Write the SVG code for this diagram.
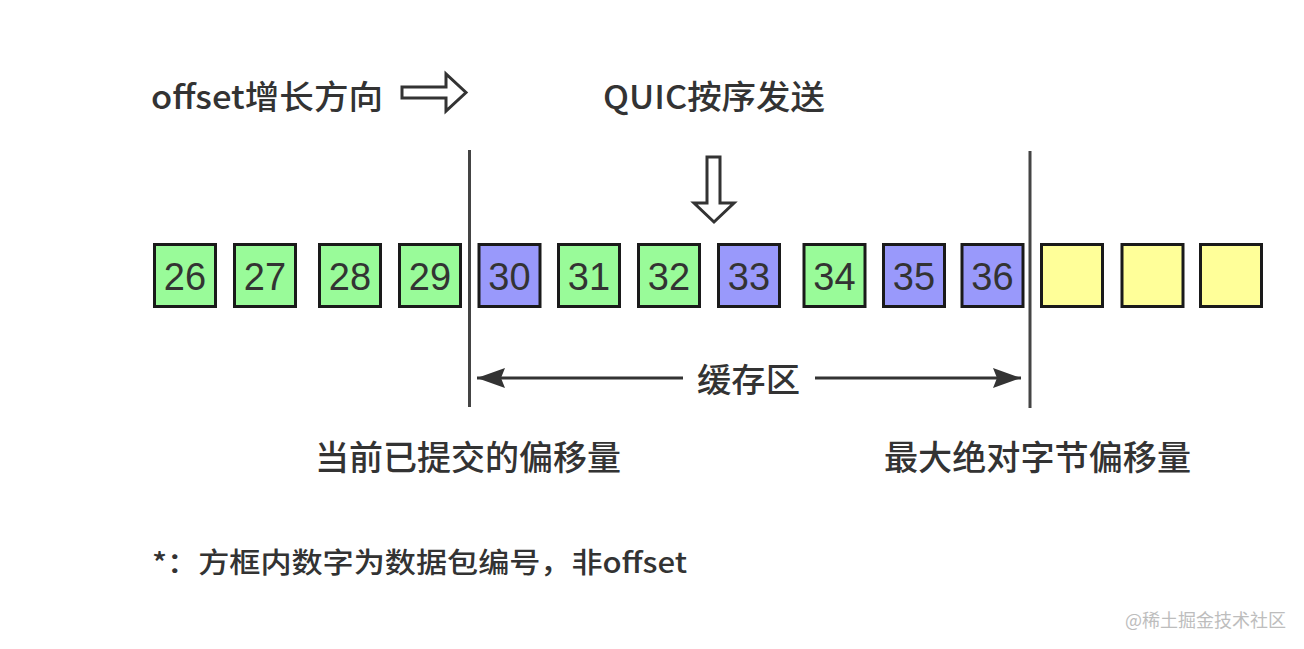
<svg xmlns="http://www.w3.org/2000/svg" width="1304" height="649" viewBox="0 0 1304 649">
<defs>
<style>
.t{font-family:"Noto Sans CJK SC","Noto Sans",sans-serif;fill:#333;font-weight:500}
.n{font-family:"Liberation Sans","Noto Sans CJK SC",sans-serif;fill:#333;font-size:38px;text-anchor:middle}
.box{stroke:#1a1a1a;stroke-width:3}
.g{fill:#99fb99}
.b{fill:#9999fb}
.y{fill:#ffff99}
.ln{stroke:#444;stroke-width:3;fill:none}
.hol{fill:#fff;stroke:#333;stroke-width:3;stroke-linejoin:miter}
</style>
<marker id="ah" viewBox="0 0 28 20" refX="28" refY="10" markerWidth="28" markerHeight="20" markerUnits="userSpaceOnUse" orient="auto-start-reverse">
<path d="M0,0 L28,10 L0,20 L4,10 z" fill="#333"/>
</marker>
</defs>
<rect width="1304" height="649" fill="#fff"/>

<g id="label-offset">
<text class="t" x="151" y="109" font-size="33" textLength="232" lengthAdjust="spacingAndGlyphs">offset增长方向</text>
</g>
<g id="arrow-right">
<path class="hol" d="M402,87 L446,87 L446,74 L466,92.5 L446,111 L446,98 L402,98 Z"/>
</g>
<g id="label-quic">
<text class="t" x="603" y="109" font-size="33" textLength="222" lengthAdjust="spacingAndGlyphs">QUIC按序发送</text>
</g>
<g id="arrow-down">
<path class="hol" d="M707,157 L720,157 L720,203 L734,203 L714,222 L694,203 L707,203 Z"/>
</g>

<g id="boundaries">
<line class="ln" x1="469.5" y1="150" x2="469.5" y2="407"/>
<line class="ln" x1="1030" y1="151" x2="1030" y2="408"/>
</g>

<g id="p26"><rect class="box g" x="154.5" y="244.5" width="61" height="62"/><text class="n" x="185" y="290">26</text></g>
<g id="p27"><rect class="box g" x="234.5" y="244.5" width="61" height="62"/><text class="n" x="265" y="290">27</text></g>
<g id="p28"><rect class="box g" x="319.5" y="244.5" width="61" height="62"/><text class="n" x="350" y="290">28</text></g>
<g id="p29"><rect class="box g" x="399.5" y="244.5" width="61" height="62"/><text class="n" x="430" y="290">29</text></g>
<g id="p30"><rect class="box b" x="479" y="244.5" width="61" height="62"/><text class="n" x="509.5" y="290">30</text></g>
<g id="p31"><rect class="box g" x="558.5" y="244.5" width="61" height="62"/><text class="n" x="589" y="290">31</text></g>
<g id="p32"><rect class="box g" x="638.5" y="244.5" width="61" height="62"/><text class="n" x="669" y="290">32</text></g>
<g id="p33"><rect class="box b" x="718.5" y="244.5" width="61" height="62"/><text class="n" x="749" y="290">33</text></g>
<g id="p34"><rect class="box g" x="804" y="244.5" width="61" height="62"/><text class="n" x="834.5" y="290">34</text></g>
<g id="p35"><rect class="box b" x="883.5" y="244.5" width="61" height="62"/><text class="n" x="914" y="290">35</text></g>
<g id="p36"><rect class="box b" x="962" y="244.5" width="61" height="62"/><text class="n" x="992.5" y="290">36</text></g>
<g id="e1"><rect class="box y" x="1041.5" y="244.5" width="61" height="62"/></g>
<g id="e2"><rect class="box y" x="1122" y="244.5" width="61" height="62"/></g>
<g id="e3"><rect class="box y" x="1200.5" y="244.5" width="61" height="62"/></g>

<g id="connectors">
<line x1="683" y1="378" x2="477" y2="378" stroke="#333" stroke-width="3" marker-end="url(#ah)"/>
<line x1="815" y1="378" x2="1021" y2="378" stroke="#333" stroke-width="3" marker-end="url(#ah)"/>
</g>

<g id="label-buffer">
<text class="t" x="697" y="392" font-size="33" textLength="103" lengthAdjust="spacingAndGlyphs">缓存区</text>
</g>
<g id="label-committed">
<text class="t" x="315" y="470" font-size="34" textLength="306" lengthAdjust="spacingAndGlyphs">当前已提交的偏移量</text>
</g>
<g id="label-max">
<text class="t" x="884" y="470" font-size="34" textLength="307" lengthAdjust="spacingAndGlyphs">最大绝对字节偏移量</text>
</g>
<g id="footnote">
<text class="t" x="152" y="573" font-size="28" textLength="535" lengthAdjust="spacingAndGlyphs">*：方框内数字为数据包编号，非offset</text>
</g>
<g id="watermark">
<text x="1125" y="627" font-size="18" fill="#bdbdbd" font-family="'Noto Sans CJK SC',sans-serif">@稀土掘金技术社区</text>
</g>
</svg>
